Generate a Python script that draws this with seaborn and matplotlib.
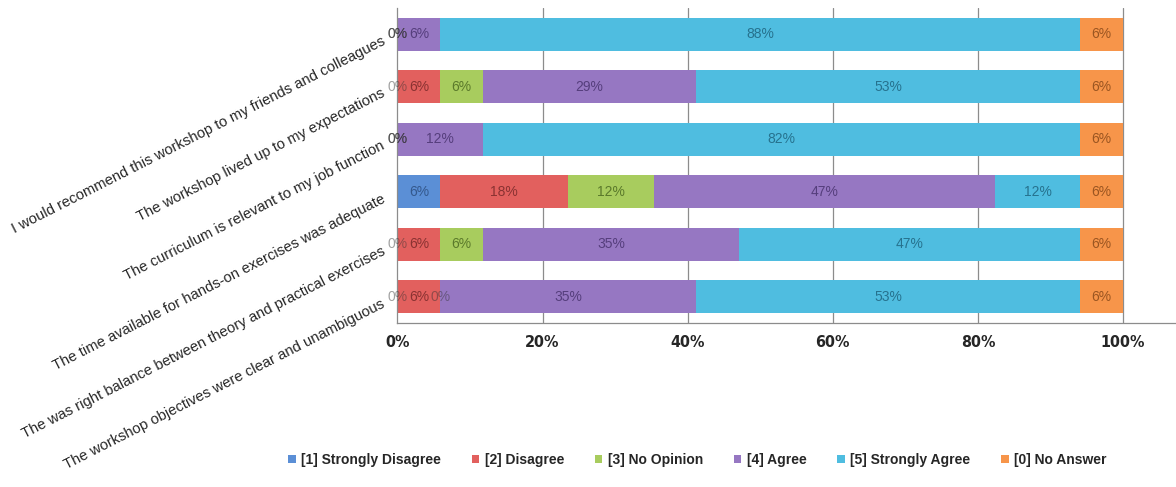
import numpy as np
import pandas as pd
import matplotlib
matplotlib.use("Agg")
import matplotlib.pyplot as plt
import seaborn as sns

# risposte (17 partecipanti) per ogni domanda
domande = [
    "I would recommend this workshop to my friends and colleagues",
    "The workshop lived up to my expectations",
    "The curriculum is relevant to my job function",
    "The time available for hands-on exercises was adequate",
    "The was right balance between theory and practical exercises",
    "The workshop objectives were clear and unambiguous",
]
risposte = ["[1] Strongly Disagree", "[2] Disagree", "[3] No Opinion",
            "[4] Agree", "[5] Strongly Agree", "[0] No Answer"]
strongly_disagree = [0, 0, 0, 1, 0, 0]
disagree = [0, 1, 0, 3, 1, 1]
no_opinion = [0, 1, 0, 2, 1, 0]
agree = [1, 5, 2, 8, 6, 6]
strongly_agree = [15, 9, 14, 2, 8, 9]
no_answer = [1, 1, 1, 1, 1, 1]
x_ticks = [0, 0.2, 0.4, 0.6, 0.8, 1.0]
x_tick_labels = ["0%", "20%", "40%", "60%", "80%", "100%"]

colori = ["#5b8fd6", "#e2605e", "#a8cc5e", "#9677c2", "#4fbde0", "#f7954a"]
colori_testo = ["#2d4f80", "#7a2a2a", "#4d6b22", "#4a3470", "#1f6580", "#8a4a1a"]

df = pd.DataFrame({
    "Domanda": domande,
    risposte[0]: strongly_disagree,
    risposte[1]: disagree,
    risposte[2]: no_opinion,
    risposte[3]: agree,
    risposte[4]: strongly_agree,
    risposte[5]: no_answer,
}).set_index("Domanda")
quote = df.div(df.sum(axis=1), axis=0)
cumulate = quote.cumsum(axis=1)

sns.set_style("white")
plt.rcParams["font.family"] = ["Liberation Sans", "DejaVu Sans"]

fig = plt.figure(figsize=(11.76, 4.87), dpi=100)
ax = fig.add_axes([0.338, 0.337, 0.662, 0.647])

# barre impilate: si disegnano le cumulate dalla più lunga alla più corta
for i in reversed(range(len(risposte))):
    col = risposte[i]
    sns.barplot(x=cumulate[col].values, y=domande, orient="h", color=colori[i],
                width=0.63, ax=ax, label=col, saturation=1, linewidth=0)

# etichette percentuali
for i, col in enumerate(risposte):
    for j, d in enumerate(domande):
        v = quote.loc[d, col]
        centro = cumulate.loc[d, col] - v / 2
        if v == 0:
            ax.text(centro, j, "0%", ha="center", va="center", fontsize=10,
                    color="#303030", alpha=0.45)
        else:
            ax.text(centro, j, f"{v * 100:.0f}%", ha="center", va="center",
                    fontsize=10, color=colori_testo[i], alpha=0.85)

ax.set_xlim(0, 1.073)
ax.set_ylim(5.5, -0.5)
ax.set_xticks(x_ticks)
ax.set_xticklabels(x_tick_labels, fontsize=11.5, fontweight="bold",
                   family=["DejaVu Sans Condensed", "Liberation Sans Narrow", "DejaVu Sans"],
                   fontstretch="condensed")
ax.tick_params(axis="x", length=0, pad=9)
ax.set_yticks(range(len(domande)))
ax.set_yticklabels(domande, rotation=27, ha="right", va="top",
                   rotation_mode="anchor", fontsize=10.6)
ax.tick_params(axis="y", length=0, pad=12)
ax.set_xlabel("")
ax.set_ylabel("")
for xt in x_ticks[1:]:
    ax.axvline(xt, color="#8c8c8c", linewidth=0.9, zorder=0)
for s in ["top", "right"]:
    ax.spines[s].set_visible(False)
for s in ["left", "bottom"]:
    ax.spines[s].set_color("#8c8c8c")
    ax.spines[s].set_linewidth(0.9)

handles, labels = ax.get_legend_handles_labels()
if ax.get_legend() is not None:
    ax.get_legend().remove()
ordine = [labels.index(r) for r in risposte]
fig.legend([handles[k] for k in ordine], risposte, loc="center",
           bbox_to_anchor=(0.593, 0.055), ncol=6, frameon=False,
           prop={"size": 10, "weight": "bold"}, handlelength=0.55,
           handleheight=0.55, handletextpad=0.4, columnspacing=2.2)

fig.savefig("out.png", dpi=100)
